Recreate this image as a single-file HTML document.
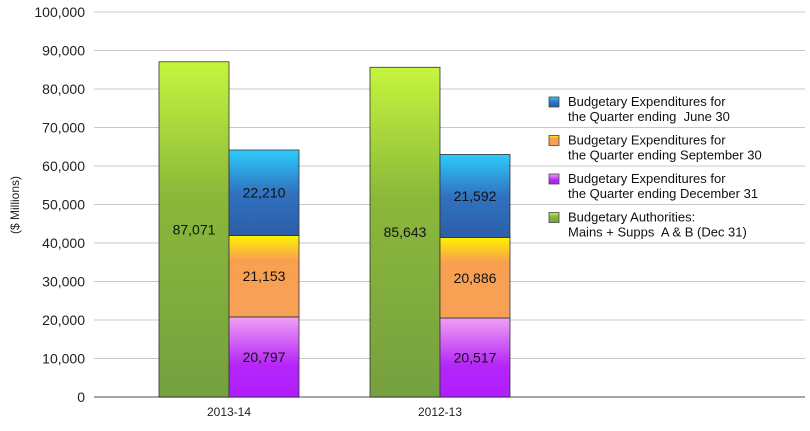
<!DOCTYPE html>
<html><head><meta charset="utf-8"><style>
body{margin:0;background:#fff;font-family:"Liberation Sans",sans-serif}
svg text{font-family:"Liberation Sans",sans-serif;white-space:pre}
</style></head><body>
<svg id="c" width="810" height="426" xmlns="http://www.w3.org/2000/svg">
<defs>
<linearGradient id="gG" x1="0" y1="0" x2="0" y2="1"><stop offset="0" stop-color="#c6f53e"/><stop offset="0.4" stop-color="#8ab83a"/><stop offset="1" stop-color="#76a040"/></linearGradient>
<linearGradient id="gB" x1="0" y1="0" x2="0" y2="1"><stop offset="0" stop-color="#2ecbfb"/><stop offset="0.5" stop-color="#2f72c0"/><stop offset="1" stop-color="#2e5ea8"/></linearGradient>
<linearGradient id="gO" x1="0" y1="0" x2="0" y2="1"><stop offset="0" stop-color="#fff200"/><stop offset="0.3" stop-color="#f9a050"/><stop offset="1" stop-color="#f7a157"/></linearGradient>
<linearGradient id="gP" x1="0" y1="0" x2="0" y2="1"><stop offset="0" stop-color="#f0a0f2"/><stop offset="0.6" stop-color="#b526f8"/><stop offset="1" stop-color="#b01cff"/></linearGradient>
</defs>
<g id="grid"></g><g id="bars"></g><g id="legend"></g>
</svg>
<script>
const categories=["2013-14","2012-13"];
const authorities=[87071,85643];
const q3=[20797,20517];
const q2=[21153,20886];
const q1=[22210,21592];
const yTicks=[0,10000,20000,30000,40000,50000,60000,70000,80000,90000,100000];
const legendLabels=[["Budgetary Expenditures for","the Quarter ending  June 30"],["Budgetary Expenditures for","the Quarter ending September 30"],["Budgetary Expenditures for","the Quarter ending December 31"],["Budgetary Authorities:","Mains + Supps  A & B (Dec 31)"]];
const NS="http://www.w3.org/2000/svg";
const y0=397,yTop=12,xL=94,xR=805;
const y=v=>y0-(v/100000)*(y0-yTop);
const xc=i=>229+i*211;
function mk(t,a,p){const e=document.createElementNS(NS,t);for(const k in a)e.setAttribute(k,a[k]);p.appendChild(e);return e;}
const fmt=v=>v.toLocaleString("en-US");
const grid=document.getElementById("grid");
yTicks.forEach(t=>{
 const l=mk("line",{x1:xL,x2:xR,y1:y(t),y2:y(t),stroke:t===0?"#888":"#c8c8c8","stroke-width":t===0?1.5:1},grid);
 
 
 const tx=mk("text",{x:85,y:y(t)+5,"text-anchor":"end","font-size":14,fill:"#222"},grid);
 tx.textContent=fmt(t);
 
 
});
const yt=mk("text",{x:19,y:205,"text-anchor":"middle","font-size":12,fill:"#222",transform:"rotate(-90 19 205)"},grid);
yt.textContent="($ Millions)";


const bars=document.getElementById("bars");
const bw=70;
function bar(x,v0,v1,fill,label,name){
 const r=mk("rect",{x:x,y:y(v1),width:bw,height:y(v0)-y(v1),fill:fill,stroke:"#333","stroke-width":0.8},bars);
 
 
 const t=mk("text",{x:x+bw/2,y:(y(v0)+y(v1))/2+5,"text-anchor":"middle","font-size":14,fill:"#111"},bars);
 t.textContent=fmt(label);
 
 
}
categories.forEach((c,i)=>{
 const x=xc(i);
 bar(x-bw,0,authorities[i],"url(#gG)",authorities[i],"bar-authorities");
 bar(x,0,q3[i],"url(#gP)",q3[i],"bar-q-dec");
 bar(x,q3[i],q3[i]+q2[i],"url(#gO)",q2[i],"bar-q-sep");
 bar(x,q3[i]+q2[i],q3[i]+q2[i]+q1[i],"url(#gB)",q1[i],"bar-q-jun");
 const t=mk("text",{x:x,y:416,"text-anchor":"middle","font-size":12,fill:"#222"},bars);
 t.textContent=c;
 
 
});
const leg=document.getElementById("legend");
const lc=["url(#gB)","url(#gO)","url(#gP)","url(#gG)"];
legendLabels.forEach((ls,i)=>{
 const yy=96+i*38.5;
 const r=mk("rect",{x:549,y:yy+1,width:10,height:10,fill:lc[i],stroke:"#444","stroke-width":0.8},leg);
 
 
 ls.forEach((s,j)=>{
  const t=mk("text",{x:568,y:yy+10+j*15,"font-size":13,fill:"#111"},leg);
  t.textContent=s;
  
  
 });
});
</script>
</body></html>
